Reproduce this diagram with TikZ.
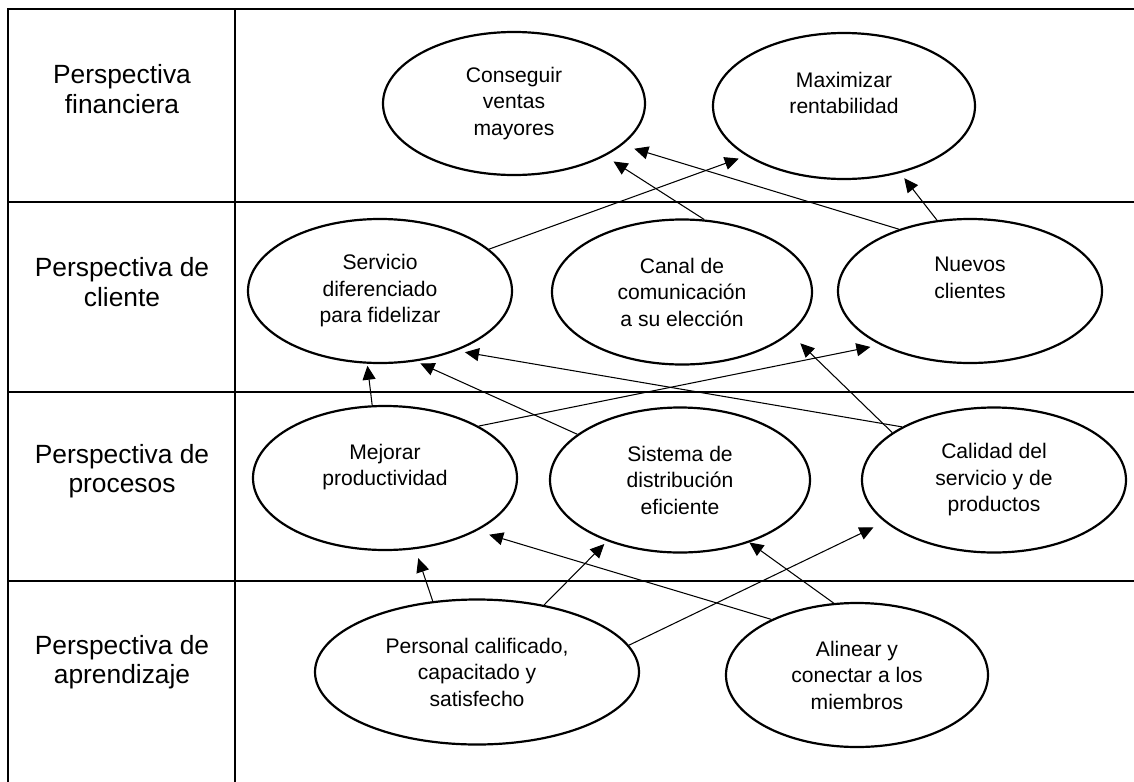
\documentclass[tikz,border=0pt]{standalone}
\usepackage{fontspec}
\setmainfont{Liberation Sans}
\usepackage{tikz}
\usetikzlibrary{arrows.meta,shapes.geometric}
\tikzset{
  bsc line/.style={line width=1.1pt, black},
  bsc lab/.style={align=center, inner sep=0pt, font=\fontsize{15}{16.8}\selectfont},
  bsc obj/.style={ellipse, draw, line width=1.25pt, fill=white, align=center, inner sep=0pt,
                  minimum width=5.24cm, minimum height=2.88cm, font=\fontsize{12}{15.1}\selectfont},
  bsc arr/.style={-{Triangle[length=0.28cm, width=0.26cm]}, line width=0.6pt, black},
}
\begin{document}
\begin{tikzpicture}[x=1cm, y=1cm]
  \useasboundingbox (0,0) rectangle (22.68,-15.64);
  % table of the four perspectives
  \draw[bsc line] (0.16,-15.64) -- (0.16,-0.18) -- (22.68,-0.18);
  \draw[bsc line] (4.70,-15.64) -- (4.70,-0.18);
  \foreach \y in {-4.04,-7.84,-11.62} \draw[bsc line] (0.16,\y) -- (22.68,\y);
  \node[bsc lab] (lf) at (2.44,-1.78) {Perspectiva\\financiera};
  \node[bsc lab] (lc) at (2.44,-5.64) {Perspectiva de\\cliente};
  \node[bsc lab] (lp) at (2.44,-9.42) {Perspectiva de\\procesos};
  \node[bsc lab] (la) at (2.44,-13.24) {Perspectiva de\\aprendizaje};
  % objectives
  \node[bsc obj, minimum height=2.86cm] (cv) at (10.28,-2.07) {Conseguir\\ventas\\mayores};
  \node[bsc obj, minimum height=2.92cm] (mr) at (16.88,-2.12) {Maximizar\\rentabilidad\\ \mbox{}};
  \node[bsc obj, minimum width=5.28cm] (sf) at (7.60,-5.82) {Servicio\\diferenciado\\para fidelizar};
  \node[bsc obj, minimum width=5.20cm, minimum height=2.90cm] (cc) at (13.64,-5.84) {Canal de\\comunicación\\a su elección};
  \node[bsc obj, minimum width=5.28cm] (nc) at (19.40,-5.82) {Nuevos\\clientes\\ \mbox{}};
  \node[bsc obj, minimum width=5.28cm] (mp) at (7.70,-9.56) {Mejorar\\productividad\\ \mbox{}};
  \node[bsc obj, minimum width=5.20cm, minimum height=2.90cm] (se) at (13.60,-9.60) {Sistema de\\distribución\\eficiente};
  \node[bsc obj, minimum width=5.28cm, minimum height=2.90cm] (cs) at (19.88,-9.60) {Calidad del\\servicio y de\\productos};
  \node[bsc obj, minimum width=6.48cm, minimum height=2.90cm] (pc) at (9.54,-13.44) {Personal calificado,\\capacitado y\\satisfecho};
  \node[bsc obj] (ac) at (17.14,-13.50) {Alinear y\\conectar a los\\miembros};
  % cause and effect links
  \foreach \a/\b/\s in {sf.21/mr.207/0.16, cc.73/cv.-30/0.2, nc.139/cv.-21/0.25, nc.115/mr.-50/0.13,
      mp.100/sf.-100/0.04, se.156/sf.-63/0.1, cs.150/sf.-38/0.17, mp.29/nc.211/0.2, cs.155/cc.-21/0.28,
      pc.122/mp.-67/0.19, ac.147/mp.-30/0.26, pc.45/se.220/0.08, ac.108/se.-42/0, pc.10/cs.201/0.25}
    \draw[bsc arr, shorten >=\s cm] (\a) -- (\b);
\end{tikzpicture}
\end{document}
